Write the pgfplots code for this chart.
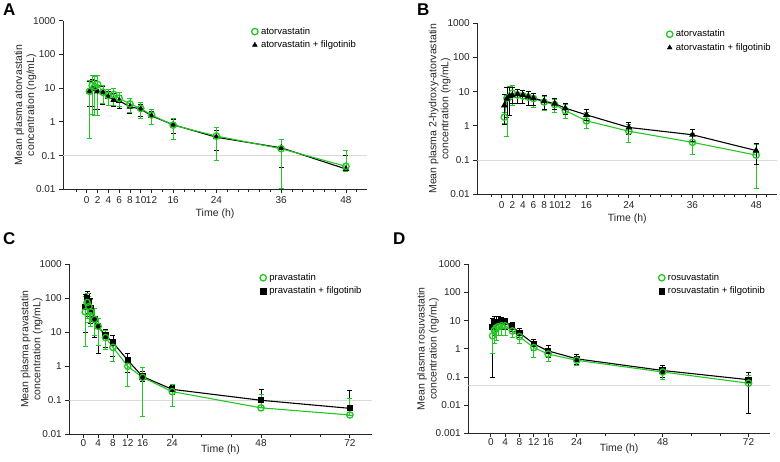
\documentclass[border=0pt]{standalone}
\usepackage{fontspec}
\setmainfont{Liberation Sans}
\usepackage{pgfplots}
\usepackage{pgfplotstable}
\pgfplotsset{compat=1.18}

\definecolor{pkgreen}{RGB}{34,200,34}
\definecolor{llq}{RGB}{218,218,218}

% panel A: atorvastatin (t, mean, lower, upper)
\pgfplotstableread{
t y lo hi
0.5 8 0.33 17
1 12 1.7 24
1.5 11 1.6 22
2 13 1.6 24
3 7.5 3.5 12
4 6 3 9
5 6.5 3 10
6 5 2.8 7.5
8 3.4 1.9 5
10 2.5 1.3 3.8
12 1.6 0.85 2.4
16 0.8 0.3 1.3
24 0.38 0.07 0.68
36 0.16 0.0105 0.3
48 0.048 0.035 0.14
}\tabAg
\pgfplotstableread{
t y lo hi
0.5 8 2.9 16
1 10 2.8 18
1.5 9.5 2.3 17
2 8 2.3 12
3 7.5 3.3 11
4 5.5 3 8
5 4.5 2.9 7
6 4.2 2.5 6
8 2.8 1.8 4
10 2.4 1.5 3.2
12 1.5 0.85 2
16 0.82 0.45 1.2
24 0.35 0.14 0.55
36 0.17 0.045 0.3
48 0.04 0.035 0.1
}\tabAb
% panel B: 2-hydroxy-atorvastatin
\pgfplotstableread{
t y lo hi
0.5 1.8 1.2 2.5
1 6.5 0.5 13
1.5 7 2 14
2 9 4 15
3 8 4.5 12
4 7.5 4.5 11
5 7 4 10
6 6.3 3.5 9
8 5 2.8 7.5
10 4.2 2.4 6
12 2.8 1.7 4.2
16 1.4 0.85 2.4
24 0.7 0.32 1.1
36 0.33 0.15 0.6
48 0.14 0.015 0.28
}\tabBg
\pgfplotstableread{
t y lo hi
0.5 4 1.1 8.5
1 6.3 1.8 13
1.5 7.5 2 13
2 7.8 4.5 13
3 8.5 4.5 12
4 8 4.5 11
5 7.2 4 10
6 6.5 4 9
8 5.3 3 8
10 4.5 3 6.5
12 3.3 2.2 4.5
16 2.1 1.4 3
24 0.9 0.55 1.3
36 0.55 0.35 0.8
48 0.19 0.075 0.31
}\tabBb
% panel C: pravastatin
\pgfplotstableread{
t y lo hi
0.5 40 3.8 110
1 75 25 140
1.5 57 20 110
2 40 15 90
3 24 8 50
4 15 4.2 25
6 7 3.2 11
8 3.6 1.4 6
12 1.0 0.25 1.8
16 0.47 0.033 0.9
24 0.18 0.066 0.3
48 0.06 0.06 0.15
72 0.037 0.037 0.11
}\tabCg
\pgfplotstableread{
t y lo hi
0.5 55 10 130
1 100 35 160
1.5 75 30 140
2 50 18 100
3 25 7 50
4 15 2.4 26
6 8 3.5 12
8 5 2 8
12 1.5 0.65 2.4
16 0.5 0.35 0.7
24 0.21 0.15 0.28
48 0.1 0.1 0.21
72 0.058 0.058 0.19
}\tabCb
% panel D: rosuvastatin
\pgfplotstableread{
t y lo hi
0.5 2.9 0.7 6
1 4.6 1.6 8
1.5 5.5 2 10
2 6 3 11
3 6.5 3 11
4 6.5 3 10
6 4.3 2.5 7
8 2.7 1.5 4
12 1.1 0.5 1.7
16 0.65 0.35 1.0
24 0.39 0.25 0.55
48 0.15 0.08 0.22
72 0.06 0.06 0.11
}\tabDg
\pgfplotstableread{
t y lo hi
0.5 6 0.095 12
1 8.5 3 14
1.5 9 4 14
2 9 5 14
3 9.5 5 13
4 9 5 12
6 6.2 4 9
8 3.7 2.5 5.5
12 1.5 0.9 2.2
16 0.84 0.5 1.3
24 0.44 0.28 0.65
48 0.17 0.1 0.25
72 0.08 0.005 0.15
}\tabDb

% common axis look (Prism style)
\pgfplotsset{
  scale only axis,
  axis lines=left,
  axis line style={-, line width=0.9pt, black!85},
  tick align=outside,
  major tick length=4pt, minor tick length=2.5pt,
  tick style={line width=0.8pt, black!85},
  yminorticks=false,
  tick label style={font=\fontsize{10}{11}\selectfont, text=black!85},
  label style={font=\fontsize{10.5}{12}\selectfont, text=black!85},
  xlabel style={yshift=2pt},
  ylabel style={align=center, yshift=-10pt},
  /pgf/number format/assume math mode=true,
  legend style={draw=none, fill=none, anchor=north west,
    font=\fontsize{9.5}{11}\selectfont, row sep=1pt,
    nodes={inner xsep=3pt}},
  legend cell align=left,
  tight bottom/.style={xticklabel style={yshift=2pt}, xlabel style={yshift=7pt}},
  grn/.style={pkgreen, line width=1.1pt, mark=o, mark size=3.2pt,
    mark options={line width=1.3pt, solid},
    error bars/y dir=both, error bars/y explicit,
    error bars/error bar style={line width=0.8pt, pkgreen},
    error bars/error mark options={rotate=90, mark size=2.5pt, line width=0.8pt, pkgreen}},
  blk/.style={black, line width=1.1pt, mark size=2.8pt,
    mark options={solid, fill=black},
    error bars/y dir=both, error bars/y explicit,
    error bars/error bar style={line width=0.8pt, black},
    error bars/error mark options={rotate=90, mark size=2.5pt, line width=0.8pt, black}},
  table/errs/.style={x=t, y=y,
    y error plus expr=\thisrow{hi}-\thisrow{y},
    y error minus expr=\thisrow{y}-\thisrow{lo}},
}

\begin{document}
\begin{tikzpicture}
\useasboundingbox (0,0) rectangle (780pt,462pt);

\node[anchor=north west, inner sep=0pt, font=\fontsize{17}{17}\selectfont\bfseries] at (3pt,458pt) {A};
\node[anchor=north west, inner sep=0pt, font=\fontsize{17}{17}\selectfont\bfseries] at (417pt,458pt) {B};
\node[anchor=north west, inner sep=0pt, font=\fontsize{17}{17}\selectfont\bfseries] at (3pt,230pt) {C};
\node[anchor=north west, inner sep=0pt, font=\fontsize{17}{17}\selectfont\bfseries] at (393pt,229pt) {D};

% A
\begin{axis}[ymode=log, anchor=south west, at={(63pt,272.7pt)}, width=304pt, height=168.6pt,
  xmin=-4.4, xmax=51.9, ymin=0.01, ymax=1000,
  xtick={0,2,4,6,8,10,12,16,24,36,48},
  minor xtick={-2,14,18,20,22,26,28,30,32,34,38,40,42,44,46,50},
  ytick={0.01,0.1,1,10,100,1000}, yticklabels={0.01,0.1,1,10,100,1000},
  xlabel={Time (h)},
  ylabel={Mean plasma atorvastatin\\concentration (ng/mL)},
  legend style={at={(0.61,0.985)}}]
\addplot[llq, line width=1pt, forget plot] coordinates {(-10,0.1) (60,0.1)};
\addplot[blk, mark=triangle*, forget plot] table[errs] {\tabAb};
\addplot[grn, forget plot] table[errs] {\tabAg};
\addlegendimage{only marks, mark=o, pkgreen, mark size=3.2pt, mark options={line width=1.3pt}}
\addlegendentry{atorvastatin}
\addlegendimage{only marks, mark=triangle*, black, mark size=2.8pt}
\addlegendentry{atorvastatin + filgotinib}
\end{axis}

% B
\begin{axis}[ymode=log, anchor=south west, at={(477.3pt,267.7pt)}, width=300pt, height=171pt,
  xmin=-4.6, xmax=52, ymin=0.01, ymax=1000,
  xtick={0,2,4,6,8,10,12,16,24,36,48},
  minor xtick={-2,14,18,20,22,26,28,30,32,34,38,40,42,44,46,50},
  ytick={0.01,0.1,1,10,100,1000}, yticklabels={0.01,0.1,1,10,100,1000},
  xlabel={Time (h)},
  ylabel={Mean plasma 2-hydroxy-atorvastatin\\concentration (ng/mL)},
  legend style={at={(0.62,0.985)}}]
\addplot[llq, line width=1pt, forget plot] coordinates {(-10,0.1) (60,0.1)};
\addplot[grn, forget plot] table[errs] {\tabBg};
\addplot[blk, mark=triangle*, forget plot] table[errs] {\tabBb};
\addlegendimage{only marks, mark=o, pkgreen, mark size=3.2pt, mark options={line width=1.3pt}}
\addlegendentry{atorvastatin}
\addlegendimage{only marks, mark=triangle*, black, mark size=2.8pt}
\addlegendentry{atorvastatin + filgotinib}
\end{axis}

% C
\begin{axis}[ymode=log, tight bottom, anchor=south west, at={(69.3pt,27.7pt)}, width=302.4pt, height=170pt,
  xmin=-3.8, xmax=77.9, ymin=0.01, ymax=1000,
  xtick={0,4,8,12,16,24,48,72},
  minor xtick={32,40,56,64},
  ytick={0.01,0.1,1,10,100,1000}, yticklabels={0.01,0.1,1,10,100,1000},
  xlabel={Time (h)},
  ylabel={Mean plasma pravastatin\\concentration (ng/mL)},
  legend style={at={(0.62,0.97)}}]
\addplot[llq, line width=1pt, forget plot] coordinates {(-10,0.1) (90,0.1)};
\addplot[blk, mark=square*, mark size=2.6pt, forget plot] table[errs] {\tabCb};
\addplot[grn, forget plot] table[errs] {\tabCg};
\addlegendimage{only marks, mark=o, pkgreen, mark size=3.2pt, mark options={line width=1.3pt}}
\addlegendentry{pravastatin}
\addlegendimage{only marks, mark=square*, black, mark size=2.6pt}
\addlegendentry{pravastatin + filgotinib}
\end{axis}

% D
\begin{axis}[ymode=log, tight bottom, anchor=south west, at={(468.3pt,28.7pt)}, width=301.7pt, height=169pt,
  xmin=-6.3, xmax=78, ymin=0.001, ymax=1000,
  xtick={0,4,8,12,16,24,48,72},
  minor xtick={32,40,56,64},
  ytick={0.001,0.01,0.1,1,10,100,1000}, yticklabels={0.001,0.01,0.1,1,10,100,1000},
  xlabel={Time (h)},
  ylabel={Mean plasma rosuvastatin\\concentration (ng/mL)},
  legend style={at={(0.62,0.97)}}]
\addplot[llq, line width=1pt, forget plot] coordinates {(-10,0.048) (90,0.048)};
\addplot[blk, mark=square*, mark size=2.6pt, forget plot] table[errs] {\tabDb};
\addplot[grn, forget plot] table[errs] {\tabDg};
\addlegendimage{only marks, mark=o, pkgreen, mark size=3.2pt, mark options={line width=1.3pt}}
\addlegendentry{rosuvastatin}
\addlegendimage{only marks, mark=square*, black, mark size=2.6pt}
\addlegendentry{rosuvastatin + filgotinib}
\end{axis}
\end{tikzpicture}
\end{document}
